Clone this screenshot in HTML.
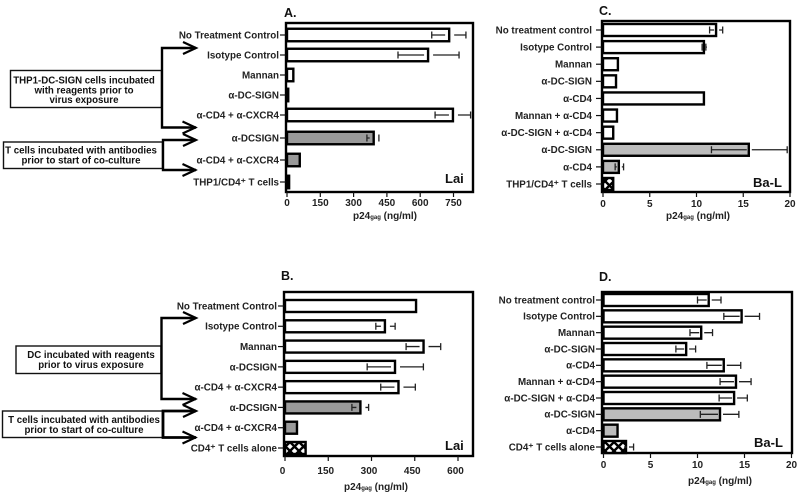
<!DOCTYPE html>
<html>
<head>
<meta charset="utf-8">
<style>
html,body{margin:0;padding:0;background:#fff;width:800px;height:494px;overflow:hidden}
svg{display:block;filter:blur(0.3px)}
text{font-family:"Liberation Sans",sans-serif;fill:#111}
.lab{font-size:9.8px;font-weight:bold;fill:#222}
.tick{font-size:10px;font-weight:bold;fill:#222}
.note{font-size:9.7px;font-weight:bold;fill:#111;text-anchor:middle}
.letter{font-size:12.5px;font-weight:bold}
.virus{font-size:13px;font-weight:bold}
</style>
</head>
<body>
<svg id="figure" xmlns="http://www.w3.org/2000/svg" width="800" height="494" viewBox="0 0 800 494">
<defs>
<pattern id="hatch" width="9" height="9" patternUnits="userSpaceOnUse" patternTransform="translate(2 1)">
<rect width="9" height="9" fill="#fff"/>
<path d="M0 0L9 9M9 0L0 9" stroke="#000" stroke-width="2.4"/>
</pattern>
<marker id="barb" markerWidth="16" markerHeight="14" refX="14.5" refY="7" orient="auto" markerUnits="userSpaceOnUse">
<path d="M1 1L14 7L1 13" fill="none" stroke="#000" stroke-width="2.2"/>
</marker>
</defs>

<g>
<rect x="10.5" y="70.5" width="151" height="37" fill="#fff" stroke="#111" stroke-width="1.4"/>
<text class="note" x="84" y="83.5">THP1-DC-SIGN cells incubated</text>
<text class="note" x="84" y="93.5">with reagents prior to</text>
<text class="note" x="84" y="103">virus exposure</text>
<path d="M196 48H162V127.5H196" fill="none" stroke="#000" stroke-width="2.4" marker-end="url(#barb)"/>
<path d="M183 42L196 48L183 54" fill="none" stroke="#000" stroke-width="2.2"/>
<rect x="3.5" y="142" width="159" height="26.5" fill="#fff" stroke="#111" stroke-width="1.4"/>
<text class="note" x="81" y="153.5">T cells incubated with antibodies</text>
<text class="note" x="81" y="163.5">prior to start of co-culture</text>
<path d="M196 140H163V170H196" fill="none" stroke="#000" stroke-width="2.4" marker-end="url(#barb)"/>
<path d="M183 134L196 140L183 146" fill="none" stroke="#000" stroke-width="2.2"/>
</g>

<g>
<rect x="16" y="346" width="145" height="27.5" fill="#fff" stroke="#111" stroke-width="1.4"/>
<text class="note" x="91" y="358">DC incubated with reagents</text>
<text class="note" x="91" y="368">prior to virus exposure</text>
<path d="M196 318H161.5V399H196" fill="none" stroke="#000" stroke-width="2.4" marker-end="url(#barb)"/>
<path d="M183 312L196 318L183 324" fill="none" stroke="#000" stroke-width="2.2"/>
<rect x="2.5" y="411" width="160" height="26.5" fill="#fff" stroke="#111" stroke-width="1.4"/>
<text class="note" x="84" y="423">T cells incubated with antibodies</text>
<text class="note" x="84" y="433">prior to start of co-culture</text>
<path d="M196 411H163V437.5H196" fill="none" stroke="#000" stroke-width="2.8" marker-end="url(#barb)"/>
<path d="M183 405L196 411L183 417" fill="none" stroke="#000" stroke-width="2.2"/>
</g>
</svg>

<script>
// Panel A
const aLabels = ["No Treatment Control","Isotype Control","Mannan","α-DC-SIGN","α-CD4 + α-CXCR4","α-DCSIGN","α-CD4 + α-CXCR4","THP1/CD4⁺ T cells"];
const aValues = [735,640,33,10,752,395,62,14];
const aLow = [652,500,null,null,667,360,null,null];
const aHigh = [806,775,null,null,827,414,null,null];
const aKinds = ["reagent","reagent","reagent","reagent","reagent","antibody","antibody","alone"];
const aTicks = [0,150,300,450,600,750];

// Panel B
const bLabels = ["No Treatment Control","Isotype Control","Mannan","α-DCSIGN","α-CD4 + α-CXCR4","α-DCSIGN","α-CD4 + α-CXCR4","CD4⁺ T cells alone"];
const bValues = [458,350,484,385,397,265,45,75];
const bLow = [null,315,420,285,332,232,null,null];
const bHigh = [null,382,540,480,452,290,null,null];
const bKinds = ["reagent","reagent","reagent","reagent","reagent","antibody","antibody","alone"];
const bTicks = [0,150,300,450,600];

// Panel C
const cLabels = ["No treatment control","Isotype Control","Mannan","α-DC-SIGN","α-CD4","Mannan + α-CD4","α-DC-SIGN + α-CD4","α-DC-SIGN","α-CD4","THP1/CD4⁺ T cells"];
const cValues = [12.2,10.9,1.7,1.5,10.9,1.6,1.2,15.7,1.8,1.2];
const cLow = [11.4,10.6,null,null,null,null,null,11.6,1.3,null];
const cHigh = [12.8,11,null,null,null,null,null,19.7,2.2,null];
const cKinds = ["reagent","reagent","reagent","reagent","reagent","reagent","reagent","antibody","antibody","alone"];
const cTicks = [0,5,10,15,20];

// Panel D
const dLabels = ["No treatment control","Isotype Control","Mannan","α-DC-SIGN","α-CD4","Mannan + α-CD4","α-DC-SIGN + α-CD4","α-DC-SIGN","α-CD4","CD4⁺ T cells alone"];
const dValues = [11.3,14.8,10.5,8.9,12.9,14.2,14,12.5,1.6,2.5];
const dLow = [10,12.8,9.2,7.7,11,12.4,12.3,10.3,null,null];
const dHigh = [12.5,16.6,11.6,9.8,14.6,15.7,15.3,14.4,null,3.2];
const dKinds = ["reagent","reagent","reagent","reagent","reagent","reagent","reagent","antibody","antibody","alone"];
const dTicks = [0,5,10,15,20];

const NS = "http://www.w3.org/2000/svg";
const figure = document.getElementById("figure");

function make(parent, tag, attrs) {
  const el = document.createElementNS(NS, tag);
  for (const k in attrs) el.setAttribute(k, attrs[k]);
  parent.appendChild(el);
  return el;
}

function linearScale(d0, d1, r0, r1) {
  return v => r0 + (v - d0) * (r1 - r0) / (d1 - d0);
}

function rowScale(count, top, bottom, split, splitTop) {
  if (!split) return i => top + i * (bottom - top) / (count - 1);
  return i => {
    if (i < split) return top + i * (splitTop.upperEnd - top) / (split - 1);
    return splitTop.lowerStart + (i - split) * (bottom - splitTop.lowerStart) / (count - split - 1);
  };
}

function drawPanel(p) {
  const g = make(figure, "g", {});
  
  

  const ticks = p.ticks;
  const x = linearScale(ticks[0], ticks[ticks.length - 1], p.x0, p.x1);
  const y = rowScale(p.labels.length, p.rowTop, p.rowBottom, p.split, p.splitRows);

  const frame = make(g, "rect", {x: p.left, y: p.top, width: p.right - p.left, height: p.bottom - p.top, fill: "#fff", stroke: "#000", "stroke-width": 2.4});
  
  

  p.labels.forEach((label, i) => {
    const cy = y(i);
    const tick = make(g, "line", {x1: p.left - 6, x2: p.left, y1: cy, y2: cy, stroke: "#111", "stroke-width": 1.2});
    
    

    const text = make(g, "text", {x: p.left - p.labelGap, y: cy + 3.4, "text-anchor": "end", class: "lab"});
    text.textContent = label;
    
    

    const v = p.values[i];
    const kind = p.kinds[i];
    const fill = kind === "reagent" ? "#fff" : kind === "antibody" ? p.grey : "url(#hatch)";
    const end = x(v);
    const bar = make(g, "rect", {x: p.x0, y: cy - p.barH / 2, width: Math.max(end - p.x0 - 1, 1), height: p.barH, fill: fill, stroke: "#000", "stroke-width": 2.4});
    
    

    if (p.high[i] !== null) {
      const hi = x(p.high[i]);
      const lo = x(p.low[i] === null ? v : p.low[i]);
      const err = make(g, "path", {
        d: "M" + lo + " " + cy + "H" + (end - p.gap - 1) +
           "M" + (end + p.gap) + " " + cy + "H" + hi +
           "M" + hi + " " + (cy - 3.5) + "V" + (cy + 3.5) +
           (p.low[i] === null ? "" : "M" + lo + " " + (cy - 3.5) + "V" + (cy + 3.5)),
        fill: "none", stroke: "#222", "stroke-width": 1.3
      });
      
      
    }
  });

  ticks.forEach(t => {
    const tx = x(t);
    const tk = make(g, "line", {x1: tx, x2: tx, y1: p.bottom, y2: p.bottom + 5, stroke: "#111", "stroke-width": 1.2});
    
    
    const lb = make(g, "text", {x: tx + p.tickShift, y: p.tickY, "text-anchor": "middle", class: "tick"});
    lb.textContent = t;
    
    
  });

  const title = make(g, "text", {x: p.titleX, y: p.titleY, "text-anchor": "middle", class: "tick"});
  
  
  title.appendChild(document.createTextNode("p24"));
  const sub = make(title, "tspan", {"font-size": "6px", dy: "0"});
  sub.textContent = "gag";
  const rest = make(title, "tspan", {dy: "0"});
  rest.textContent = " (ng/ml)";

  const letter = make(g, "text", {x: p.letterX, y: p.letterY, class: "letter"});
  letter.textContent = p.id.toUpperCase() + ".";
  
  

  const virus = make(g, "text", {x: p.virusX, y: p.virusY, class: "virus"});
  virus.textContent = p.virus;
  
  
}

drawPanel({id:"a", labels:aLabels, values:aValues, low:aLow, high:aHigh, kinds:aKinds, ticks:aTicks,
  left:286, right:473, top:23, bottom:192, x0:287, x1:453.5, rowTop:35, rowBottom:182, split:5,
  splitRows:{upperEnd:115, lowerStart:138}, barH:12.5, gap:4, grey:"#9a9a9a", tickShift:0, tickY:206,
  titleX:385, titleY:219, labelGap:7, letterX:284, letterY:17, virus:"Lai", virusX:445, virusY:183});

drawPanel({id:"b", labels:bLabels, values:bValues, low:bLow, high:bHigh, kinds:bKinds, ticks:bTicks,
  left:284, right:473, top:292, bottom:456, x0:285, x1:458, rowTop:306, rowBottom:448,
  barH:12, gap:4, grey:"#9a9a9a", tickShift:-2.5, tickY:474,
  titleX:376, titleY:490, labelGap:7, letterX:281, letterY:280, virus:"Lai", virusX:445, virusY:450});

drawPanel({id:"c", labels:cLabels, values:cValues, low:cLow, high:cHigh, kinds:cKinds, ticks:cTicks,
  left:602, right:790, top:21, bottom:192, x0:603, x1:790, rowTop:30, rowBottom:184,
  barH:12, gap:2, grey:"#bcbcbc", tickShift:0, tickY:207,
  titleX:698, titleY:219, labelGap:10, letterX:599, letterY:15, virus:"Ba-L", virusX:753, virusY:187});

drawPanel({id:"d", labels:dLabels, values:dValues, low:dLow, high:dHigh, kinds:dKinds, ticks:dTicks,
  left:602, right:792, top:292, bottom:453, x0:603.5, x1:791.5, rowTop:300, rowBottom:447,
  barH:12, gap:2, grey:"#bcbcbc", tickShift:0, tickY:468,
  titleX:720, titleY:484, labelGap:7, letterX:599, letterY:281, virus:"Ba-L", virusX:754, virusY:447});
</script>
</body>
</html>
